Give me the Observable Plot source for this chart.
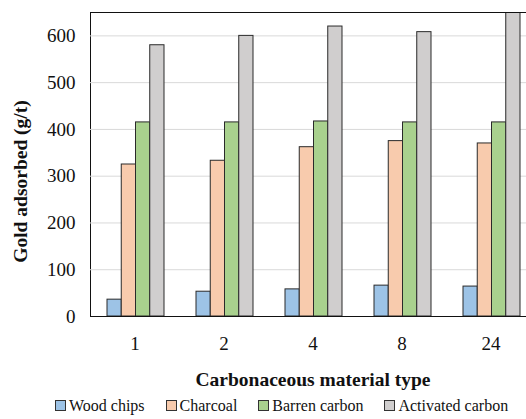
<!DOCTYPE html>
<html><head><meta charset="utf-8">
<script src="https://cdn.jsdelivr.net/npm/d3@7"></script>
<script src="https://cdn.jsdelivr.net/npm/@observablehq/plot@0.6"></script>
<style>
html,body{margin:0;padding:0;overflow:hidden;background:#fff;}
#wrap{width:545px;font-family:'Liberation Serif','DejaVu Serif',serif;}
#chart svg, #chart svg text{font-family:'Liberation Serif','DejaVu Serif',serif !important;}
#legend{display:flex;height:27px;align-items:center;padding-left:55px;font-size:16px;color:#111;white-space:nowrap;}
#legend .item{display:flex;align-items:center;margin-right:21px;}
#legend .sw{width:9px;height:9px;border:1px solid #333;margin-right:3px;}
</style></head><body><div id="wrap"><div id="chart"></div><div id="legend"></div></div>
<script>
const times = ["1", "2", "4", "8", "24"];
const materials = ["Wood chips", "Charcoal", "Barren carbon", "Activated carbon"];
const woodChips = [36, 53, 58, 66, 64];
const charcoal = [325, 333, 362, 375, 370];
const barrenCarbon = [415, 415, 417, 415, 415];
const activatedCarbon = [580, 600, 620, 608, 680];
const yTicks = [0, 100, 200, 300, 400, 500, 600];
const colors = ["#9DC3E6", "#F8CBAD", "#A9D18E", "#D0CECE"];

const series = [woodChips, charcoal, barrenCarbon, activatedCarbon];
const data = [];
materials.forEach((m, i) => times.forEach((t, j) => data.push({material: m, time: t, value: series[i][j]})));

const W = 545, mL = 90, mR = 10;
const band = (W - mL - mR) / times.length;
const groupStart = 17, barW = 14.25;

const barMarks = materials.map((m, i) => Plot.barY(data.filter(d => d.material === m), {
  x: "time", y: "value", fill: colors[i], stroke: "#2a2a2a", strokeWidth: 1,
  insetLeft: groupStart + barW * i,
  insetRight: band - (groupStart + barW * (i + 1)),
  clip: true
}));

const chart = Plot.plot({
  width: W, height: 392,
  marginLeft: mL, marginRight: mR, marginTop: 12, marginBottom: 76,
  style: {fontFamily: "'Liberation Serif', 'DejaVu Serif', serif", fontSize: "19px", color: "#111", background: "#fff"},
  x: {domain: times, padding: 0, tickSize: 0, tickPadding: 20, label: null},
  y: {domain: [0, 650], ticks: yTicks, tickSize: 0, tickPadding: 15, label: null, line: true},
  marks: [
    Plot.ruleY(yTicks.filter(v => v > 0), {stroke: "#d9d9d9", strokeWidth: 1}),
    ...barMarks,
    Plot.ruleY([0], {stroke: "#111", strokeWidth: 1.2}),
    Plot.ruleY([650], {stroke: "#111", strokeWidth: 1.2}),
    Plot.text(["Carbonaceous material type"], {frameAnchor: "bottom", textAnchor: "middle", lineAnchor: "middle", dy: 63, fontWeight: "bold", fontSize: 19.5, fill: "#111"}),
    Plot.text(["Gold adsorbed (g/t)"], {frameAnchor: "left", textAnchor: "middle", lineAnchor: "middle", dx: -70, dy: 17, rotate: -90, fontWeight: "bold", fontSize: 19.5, fill: "#111"})
  ]
});
document.getElementById("chart").appendChild(chart);

const leg = document.getElementById("legend");
materials.forEach((m, i) => {
  const it = document.createElement("div"); it.className = "item";
  const sw = document.createElement("div"); sw.className = "sw"; sw.style.background = colors[i];
  const tx = document.createElement("span"); tx.textContent = m;
  it.appendChild(sw); it.appendChild(tx); leg.appendChild(it);
});
</script></body></html>
